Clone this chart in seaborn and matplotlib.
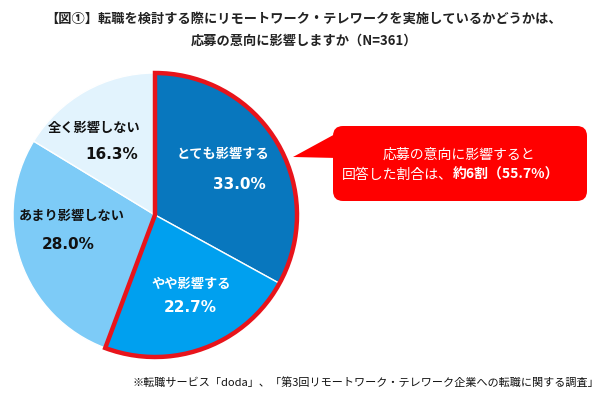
import numpy as np
import seaborn as sns
import matplotlib.pyplot as plt
from matplotlib.patches import Wedge, FancyBboxPatch, Polygon

# data
categories = ["とても影響する", "やや影響する", "あまり影響しない", "全く影響しない"]
shares = [33.0, 22.7, 28.0, 16.3]
colors = ["#0877be", "#00a0ef", "#7dcbf7", "#e2f3fd"]
label_colors = ["white", "white", "#111111", "#111111"]
title = "【図①】転職を検討する際にリモートワーク・テレワークを実施しているかどうかは、\n応募の意向に影響しますか（N=361）"
callout_line1 = "応募の意向に影響すると"
callout_line2a = "回答した割合は、"
callout_line2b = "約6割（55.7%）"
source = "※転職サービス「doda」、「第3回リモートワーク・テレワーク企業への転職に関する調査」"

# small nudges (pixels) for the label / percent text of each slice
label_nudge = [(-8, 2), (6, 0), (0, 14), (-18, -4)]
pct_nudge = [(3, 0), (-1, 4), (-10, 13), (-6, -2)]

sns.set_theme(style="white")
plt.rcParams["font.family"] = ["Noto Sans CJK JP", "DejaVu Sans"]

W, H = 608, 399
fig = plt.figure(figsize=(W / 100, H / 100), dpi=100)
ax = fig.add_axes([0, 0, 1, 1])

cx, cy, r = 155, H - 215, 142
ax.pie(shares, colors=colors, startangle=90, counterclock=False,
       center=(cx, cy), radius=r,
       wedgeprops=dict(edgecolor="white", linewidth=1))

# red outline around the two "affects" slices
top_share = shares[0] + shares[1]
ax.add_patch(Wedge((cx, cy), r, 90 - top_share * 3.6, 90, fill=False,
                   edgecolor="#e8141b", linewidth=3.2, joinstyle="miter", zorder=5))

# slice labels
start = 90.0
for i, (cat, val, tc) in enumerate(zip(categories, shares, label_colors)):
    mid = np.deg2rad(start - val * 3.6 / 2)
    start -= val * 3.6
    lx = cx + 0.62 * r * np.cos(mid)
    ly = cy + 0.62 * r * np.sin(mid)
    ax.text(lx + label_nudge[i][0], ly + 14 + label_nudge[i][1], cat,
            ha="center", va="center", color=tc,
            fontsize=9.5, fontweight="bold", zorder=6)
    ax.text(lx + 6 + pct_nudge[i][0], ly - 14 + pct_nudge[i][1], f"{val:.1f}%",
            ha="center", va="center", color=tc,
            fontsize=11, fontweight="bold", family="DejaVu Sans", zorder=6)

# callout
red = "#ff0000"
bx0, bx1, by0, by1 = 333, 587, H - 201, H - 126
ax.add_patch(FancyBboxPatch((bx0, by0), bx1 - bx0, by1 - by0,
                            boxstyle="round,pad=0,rounding_size=10",
                            facecolor=red, edgecolor="none", zorder=4))
ax.add_patch(Polygon([(293, H - 157), (bx0 + 4, H - 133), (bx0 + 4, H - 158)],
                     closed=True, facecolor=red, edgecolor="none", zorder=4))
ax.text(459, H - 155, callout_line1, ha="center", va="center",
        color="white", fontsize=10, zorder=6)
ax.text(453, H - 175, callout_line2a, ha="right", va="center",
        color="white", fontsize=10, zorder=6)
ax.text(453, H - 175, callout_line2b, ha="left", va="center",
        color="white", fontsize=10, fontweight="bold", zorder=6)

# title and source
ax.text(W / 2, H - 30, title, ha="center", va="center", fontsize=9.5,
        fontweight="bold", color="#222222", linespacing=1.75)
ax.text(599, H - 382, source, ha="right", va="center", fontsize=8, color="#111111")

ax.set_xlim(0, W)
ax.set_ylim(0, H)
ax.set_aspect("equal")
ax.axis("off")

fig.savefig("out.png", dpi=100)
